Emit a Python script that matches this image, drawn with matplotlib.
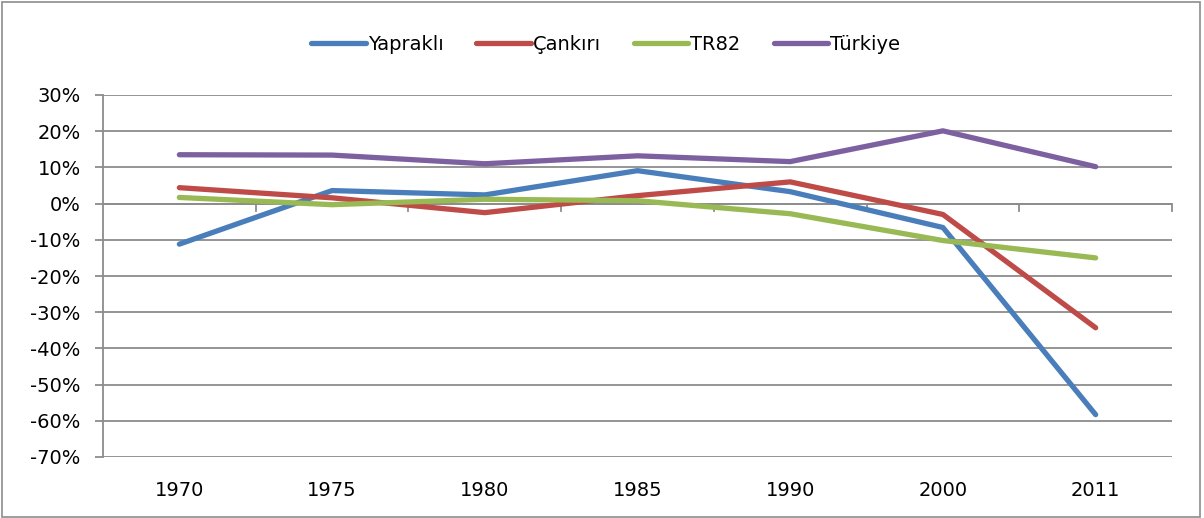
import matplotlib.pyplot as plt
from matplotlib.ticker import FuncFormatter
from matplotlib.patches import Rectangle

years = ["1970", "1975", "1980", "1985", "1990", "2000", "2011"]
yaprakli = [-11.2, 3.6, 2.4, 9.1, 3.3, -6.6, -58.3]
cankiri = [4.4, 1.6, -2.5, 2.2, 6.0, -3.0, -34.3]
tr82 = [1.7, -0.3, 1.2, 0.8, -2.8, -10.2, -15.0]
turkiye = [13.5, 13.4, 11.0, 13.2, 11.6, 20.1, 10.2]

series = [
    ("Yapraklı", yaprakli, "#4a7ebb"),
    ("Çankırı", cankiri, "#be4b48"),
    ("TR82", tr82, "#98b954"),
    ("Türkiye", turkiye, "#7d60a0"),
]

grid_c = "#8c8c8c"

fig = plt.figure(figsize=(12.04, 5.18), dpi=100)
ax = fig.add_axes([103 / 1204, 1 - 457 / 518, (1172 - 103) / 1204, (457 - 95) / 518])

x = range(len(years))
for name, vals, col in series:
    ax.plot(x, vals, color=col, lw=3.8, label=name, solid_capstyle="round",
            solid_joinstyle="round")

ax.set_xlim(-0.5, len(years) - 0.5)
ax.set_ylim(-70, 30)
ax.set_yticks(range(-70, 31, 10))
ax.yaxis.set_major_formatter(FuncFormatter(lambda v, p: f"{v:.0f}%"))
ax.grid(axis="y", color=grid_c, lw=1.3)
ax.set_axisbelow(True)

for s in ["top", "right", "bottom"]:
    ax.spines[s].set_visible(False)
ax.spines["left"].set_color(grid_c)
ax.spines["left"].set_linewidth(1.3)

# category labels at the bottom, axis line at 0 with boundary ticks
ax.set_xticks(list(x))
ax.set_xticklabels(years)
ax.tick_params(axis="x", length=0, pad=17, labelsize=14)
ax.tick_params(axis="y", length=6, color=grid_c, width=1.3, labelsize=14, pad=10)
ax.axhline(0, color=grid_c, lw=1.3, zorder=1)
for b in [i + 0.5 for i in range(len(years))]:
    ax.plot([b, b], [0, -2], color=grid_c, lw=1.3, zorder=1, clip_on=False)

leg = fig.legend(loc="center", bbox_to_anchor=(0.503, 1 - 44 / 518), ncol=4,
                 frameon=False, fontsize=14, handlelength=2.8, handletextpad=0.1,
                 columnspacing=1.7)

fig.patches.append(Rectangle((0.002, 0.002), 0.995, 0.994, transform=fig.transFigure,
                             fill=False, edgecolor="#8c8c8c", lw=1.2))

fig.savefig("out.png", dpi=100)
